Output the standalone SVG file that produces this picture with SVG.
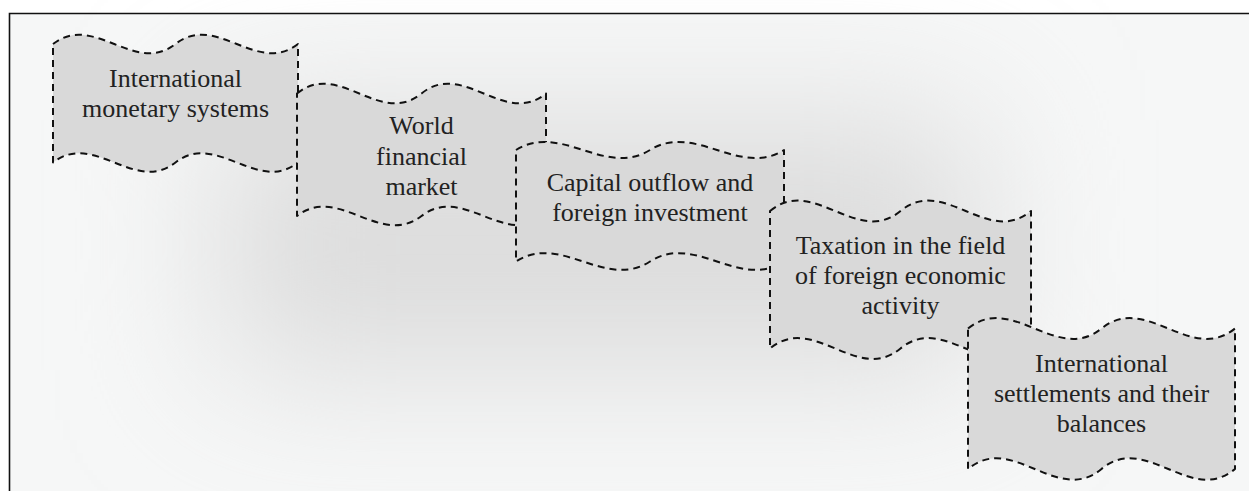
<svg xmlns="http://www.w3.org/2000/svg" width="1249" height="491" viewBox="0 0 1249 491">
  <defs>
    <filter id="soft" x="-50%" y="-80%" width="200%" height="260%">
      <feGaussianBlur stdDeviation="75"/>
    </filter>
    <style>
      .wave { fill: #d9d9d9; stroke: #111; stroke-width: 2; stroke-dasharray: 7 5; stroke-linejoin: round; }
      .label { font-family: "Liberation Serif", "Times New Roman", serif; font-size: 26px; fill: #222; text-anchor: middle; }
      .frame { fill: none; stroke: #111; stroke-width: 1.6; }
    </style>
  </defs>

  <!-- page background -->
  <rect x="0" y="0" width="1249" height="491" fill="#ffffff"/>
  <rect x="9.5" y="13.5" width="1240" height="478" fill="#f6f7f7"/>
  <!-- soft shading behind the steps -->
  <rect x="220" y="120" width="760" height="250" fill="#dcdcdc" filter="url(#soft)"/>

  <!-- frame (top and left edges) -->
  <path class="frame" d="M1249,13.5 L9.5,13.5 L9.5,491"/>

  <g id="connectors"></g>

  <g id="node-monetary-systems">
    <path class="wave" d="M53,44 C93.8,12 134.7,76 175.5,44 C216.3,12 257.2,76 298,44 L298,162.5 C257.2,194.5 216.3,130.5 175.5,162.5 C134.7,194.5 93.8,130.5 53,162.5 Z"/>
    <text class="label" x="175.5" y="86.7">International</text>
    <text class="label" x="175.5" y="116.7">monetary systems</text>
  </g>

  <g id="node-financial-market">
    <path class="wave" d="M297,93.5 C338.5,59.5 380,127.5 421.5,93.5 C463,59.5 504.5,127.5 546,93.5 L546,216 C504.5,248 463,184 421.5,216 C380,248 338.5,184 297,216 Z"/>
    <text class="label" x="421.5" y="133.5">World</text>
    <text class="label" x="421.5" y="164.5">financial</text>
    <text class="label" x="421.5" y="195">market</text>
  </g>

  <g id="node-capital-outflow">
    <path class="wave" d="M516,150 C560.7,122 605.3,178 650,150 C694.7,122 739.3,178 784,150 L784,261.5 C739.3,290.5 694.7,232.5 650,261.5 C605.3,290.5 560.7,232.5 516,261.5 Z"/>
    <text class="label" x="650" y="190.5">Capital outflow and</text>
    <text class="label" x="650" y="220.5">foreign investment</text>
  </g>

  <g id="node-taxation">
    <path class="wave" d="M770,211 C813.5,175 857,247 900.5,211 C944,175 987.5,247 1031,211 L1031,348.5 C987.5,384.5 944,312.5 900.5,348.5 C857,384.5 813.5,312.5 770,348.5 Z"/>
    <text class="label" x="900.5" y="253.5">Taxation in the field</text>
    <text class="label" x="900.5" y="283.5">of foreign economic</text>
    <text class="label" x="900.5" y="313.5">activity</text>
  </g>

  <g id="node-settlements">
    <path class="wave" d="M968,328.5 C1012.5,292.5 1057,364.5 1101.5,328.5 C1146,292.5 1190.5,364.5 1235,328.5 L1235,469 C1190.5,506 1146,432 1101.5,469 C1057,506 1012.5,432 968,469 Z"/>
    <text class="label" x="1101.5" y="372">International</text>
    <text class="label" x="1101.5" y="402">settlements and their</text>
    <text class="label" x="1101.5" y="431.5">balances</text>
  </g>
</svg>
